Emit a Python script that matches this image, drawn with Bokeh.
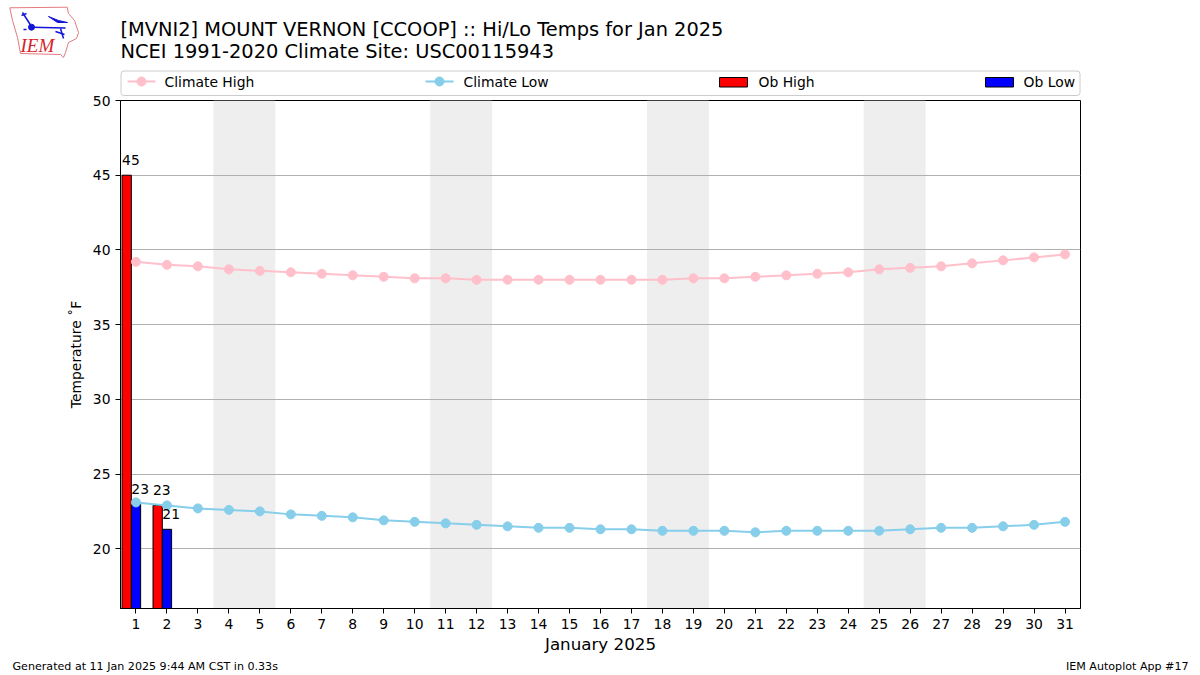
from bokeh.plotting import figure
from bokeh.models import Range1d, FixedTicker
from bokeh.embed import file_html
from bokeh.resources import INLINE
from bokeh.core.properties import value

days = list(range(1, 32))
climate_high = [39.2, 39.0, 38.9, 38.7, 38.6, 38.5, 38.4, 38.3, 38.2, 38.1, 38.1, 38.0, 38.0, 38.0, 38.0, 38.0,
                38.0, 38.0, 38.1, 38.1, 38.2, 38.3, 38.4, 38.5, 38.7, 38.8, 38.9, 39.1, 39.3, 39.5, 39.7]
climate_low = [23.1, 22.9, 22.7, 22.6, 22.5, 22.3, 22.2, 22.1, 21.9, 21.8, 21.7, 21.6, 21.5, 21.4, 21.4, 21.3,
               21.3, 21.2, 21.2, 21.2, 21.1, 21.2, 21.2, 21.2, 21.2, 21.3, 21.4, 21.4, 21.5, 21.6, 21.8]
ob_days = [1, 2]
ob_high = [45, 22.9]
ob_low = [23.0, 21.3]
ob_high_labels = ["45", "23"]
ob_low_labels = ["23", "21"]
weekend_start = [3.5, 10.5, 17.5, 24.5]
weekend_end = [5.5, 12.5, 19.5, 26.5]
y_ticks = [20, 25, 30, 35, 40, 45, 50]
title_lines = ["[MVNI2] MOUNT VERNON [CCOOP] :: Hi/Lo Temps for Jan 2025",
               "NCEI 1991-2020 Climate Site: USC00115943"]
legend_labels = ["Climate High", "Climate Low", "Ob High", "Ob Low"]
footer_left = "Generated at 11 Jan 2025 9:44 AM CST in 0.33s"
footer_right = "IEM Autoplot App #17"
FONT = "DejaVu Sans"
W = 1200
HEAD_H, OVERLAP, MAIN_H, FOOT_H = 96, 6, 566, 19
HIGH_C, LOW_C = "pink", "skyblue"


def blank(height):
    f = figure(width=W, height=height, output_backend="svg", toolbar_location=None,
               x_range=Range1d(0, W), y_range=Range1d(height, 0),
               x_axis_location=None, y_axis_location=None, min_border=0)
    f.outline_line_color = None
    f.grid.visible = False
    return f


# header: logo, titles and legend
head = blank(HEAD_H)
head.text(x=[120, 120], y=[29, 51], text=title_lines, text_font=value(FONT), text_font_size="19.4px",
          text_color="black", text_baseline="middle")
head.patches(xs=[[9.3, 66.7, 68, 74, 78, 76, 68, 65, 63, 60, 20, 17, 12]],
             ys=[[7.3, 6.7, 13, 20, 32, 38, 42, 52, 57, 54, 53, 37, 20]],
             fill_color=None, line_color="#e27a80", line_width=1)
BLUE = "#1414d8"
head.multi_line(xs=[[31, 65], [31, 22], [21, 26], [60, 63], [55, 64], [23, 26]],
                ys=[[26.7, 27.5], [26, 12], [15, 13], [28, 38], [31, 34], [29, 29]],
                line_color=BLUE, line_width=1.5)
head.patches(xs=[[48, 58, 67, 57]], ys=[[16, 20, 22, 22]], fill_color=BLUE, line_color=BLUE)
head.scatter(x=[31], y=[26.7], size=6, color=BLUE)
head.text(x=[20], y=[45], text=["IEM"], text_font=value("Liberation Serif"), text_font_style="italic",
          text_font_size="19px", text_color="#d8232a", text_baseline="middle")

box = head.quad(left=[120.5], right=[1079.5], top=[70.5], bottom=[95], fill_color="white",
                line_color="#cccccc", line_width=1)
if hasattr(box.glyph, "border_radius"):
    box.glyph.border_radius = 3
for x0, c in ((127, HIGH_C), (425, LOW_C)):
    head.line([x0, x0 + 28], [81, 81], color=c, line_width=2)
    head.scatter([x0 + 14], [81], size=9, color=c)
for x0, c in ((719, "red"), (985, "blue")):
    head.quad(left=[x0], right=[x0 + 28], top=[77], bottom=[86.5], fill_color=c, line_color="black", line_width=1)
head.text(x=[164, 463, 758, 1023], y=[81, 81, 81, 81], text=legend_labels, text_font=value(FONT),
          text_font_size="13.9px", text_color="black", text_baseline="middle")

# main chart; its empty top border overlaps the header so that the "50" tick label has room
p = figure(width=W, height=MAIN_H, output_backend="svg", toolbar_location=None,
           x_range=Range1d(0.5, 31.5), y_range=Range1d(16, 50),
           frame_width=960, frame_height=508,
           min_border_left=120, min_border_right=120, min_border_top=10, min_border_bottom=48,
           border_fill_color=None, styles={"margin-top": f"-{OVERLAP}px"})
p.outline_line_color = "black"
p.outline_line_width = 1
p.xgrid.visible = False
p.ygrid.grid_line_color = "#b0b0b0"
p.ygrid.grid_line_width = 1
p.ygrid.ticker = FixedTicker(ticks=y_ticks)

for ax, ticks in ((p.xaxis[0], days), (p.yaxis[0], y_ticks)):
    ax.ticker = FixedTicker(ticks=ticks)
    ax.major_tick_out = 5
    ax.major_tick_in = 0
    ax.minor_tick_out = 0
    ax.minor_tick_in = 0
    ax.major_label_text_font = FONT
    ax.major_label_text_font_size = "13.9px"
    ax.major_label_text_color = "black"
    ax.axis_line_color = "black"
    ax.major_tick_line_color = "black"
    ax.axis_label_text_font = FONT
    ax.axis_label_text_font_style = "normal"
    ax.axis_label_text_color = "black"
p.xaxis[0].axis_label = "January 2025"
p.xaxis[0].axis_label_text_font_size = "16.7px"
p.xaxis[0].axis_label_standoff = 2
p.yaxis[0].axis_label = "Temperature \u02daF"
p.yaxis[0].axis_label_text_font_size = "13.9px"
p.yaxis[0].axis_label_standoff = 6

p.quad(left=weekend_start, right=weekend_end, bottom=16, top=50, fill_color="#eeeeee",
       line_color=None, level="image")

bar_w = 0.3
p.vbar(x=[d - bar_w for d in ob_days], top=ob_high, bottom=16, width=bar_w,
       fill_color="red", line_color="black", line_width=1)
p.vbar(x=ob_days, top=ob_low, bottom=16, width=bar_w,
       fill_color="blue", line_color="black", line_width=1)

p.line(days, climate_high, color=HIGH_C, line_width=2)
p.scatter(days, climate_high, size=9, color=HIGH_C)
p.line(days, climate_low, color=LOW_C, line_width=2)
p.scatter(days, climate_low, size=9, color=LOW_C)

lab_x = [d - bar_w * 1.5 for d in ob_days] + [d - bar_w * 0.5 for d in ob_days]
p.text(x=lab_x, y=ob_high + ob_low, text=ob_high_labels + ob_low_labels,
       text_font=value(FONT), text_font_size="13.9px", text_color="black",
       text_align="left", text_baseline="middle", y_offset=-15)

# footer
foot = blank(FOOT_H)
foot.text(x=[12], y=[10], text=[footer_left], text_font=value(FONT), text_font_size="11.1px",
          text_color="black", text_baseline="middle")
foot.text(x=[1188], y=[10], text=[footer_right], text_font=value(FONT), text_font_size="11.1px",
          text_color="black", text_baseline="middle", text_align="right")

open("out.html", "w").write(file_html((head, p, foot), INLINE))
